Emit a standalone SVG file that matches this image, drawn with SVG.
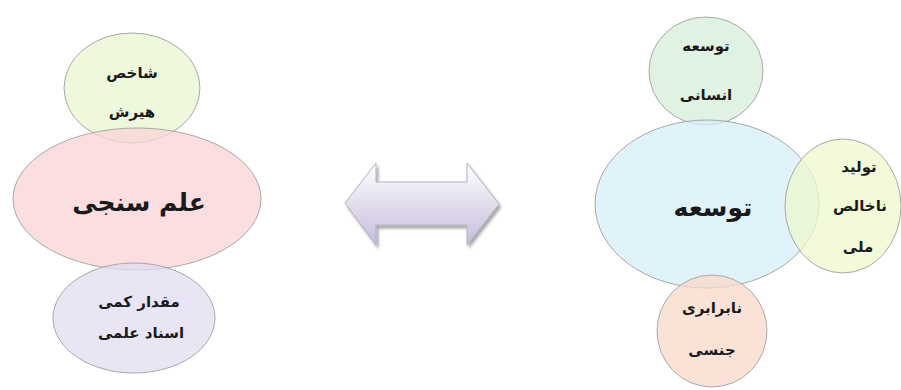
<svg xmlns="http://www.w3.org/2000/svg" width="901" height="390" viewBox="0 0 901 390">
<style>
.n{stroke:#a8a8a8;stroke-width:1;fill-opacity:0.75}
.t{font-family:"DejaVu Sans",sans-serif;font-weight:bold;fill:#1a1a1a;text-anchor:middle;direction:rtl}
.s{font-size:15px}
.b{font-size:25px}
</style>
<defs>
<linearGradient id="ga" x1="0" y1="0" x2="0" y2="1">
<stop offset="0" stop-color="#ffffff"/>
<stop offset="1" stop-color="#c6bcdc"/>
</linearGradient>
<filter id="sh" x="-10%" y="-10%" width="130%" height="140%">
<feGaussianBlur in="SourceAlpha" stdDeviation="1.5"/>
<feOffset dx="2" dy="3"/>
<feComponentTransfer><feFuncA type="linear" slope="0.35"/></feComponentTransfer>
<feMerge><feMergeNode/><feMergeNode in="SourceGraphic"/></feMerge>
</filter>
</defs>
<rect width="901" height="390" fill="#ffffff"/>
<g id="shakhes">
<ellipse class="n" cx="132" cy="88" rx="68" ry="55" fill="#e8f5d0"/>
<text class="t s" x="132" y="78">شاخص</text>
<text class="t s" x="132" y="117">هیرش</text>
</g>
<g id="elmsanji">
<ellipse class="n" cx="137" cy="199" rx="124" ry="71" fill="#f9d4d6"/>
<text class="t b" x="139" y="211">علم سنجی</text>
</g>
<g id="meghdar">
<ellipse class="n" cx="134" cy="318" rx="81" ry="55" fill="#e2dcf0"/>
<text class="t s" x="139" y="307">مقدار کمی</text>
<text class="t s" x="141" y="338">اسناد علمی</text>
</g>
<g id="connectors">
<path d="M345,203 L376,163 L376,182 L467,182 L467,163 L499,204 L467,245 L467,225 L376,225 L376,245 Z" fill="url(#ga)" stroke="#b4aec4" stroke-width="1" filter="url(#sh)"/>
</g>
<g id="ensani">
<ellipse class="n" cx="706" cy="71" rx="57" ry="54" fill="#d6efd8"/>
<text class="t s" x="706" y="51">توسعه</text>
<text class="t s" x="706" y="100">انسانی</text>
</g>
<g id="tosee">
<ellipse class="n" cx="707" cy="204" rx="112" ry="84" fill="#d6eef8"/>
<text class="t b" x="713" y="216">توسعه</text>
</g>
<g id="tolid">
<ellipse class="n" cx="843" cy="206" rx="58" ry="67" fill="#eef8cc"/>
<text class="t s" x="859" y="172">تولید</text>
<text class="t s" x="860" y="211">ناخالص</text>
<text class="t s" x="858" y="252">ملی</text>
</g>
<g id="nabarabari">
<ellipse class="n" cx="712" cy="331" rx="55" ry="56" fill="#f8dac8"/>
<text class="t s" x="712" y="313">نابرابری</text>
<text class="t s" x="712" y="355">جنسی</text>
</g>
</svg>
